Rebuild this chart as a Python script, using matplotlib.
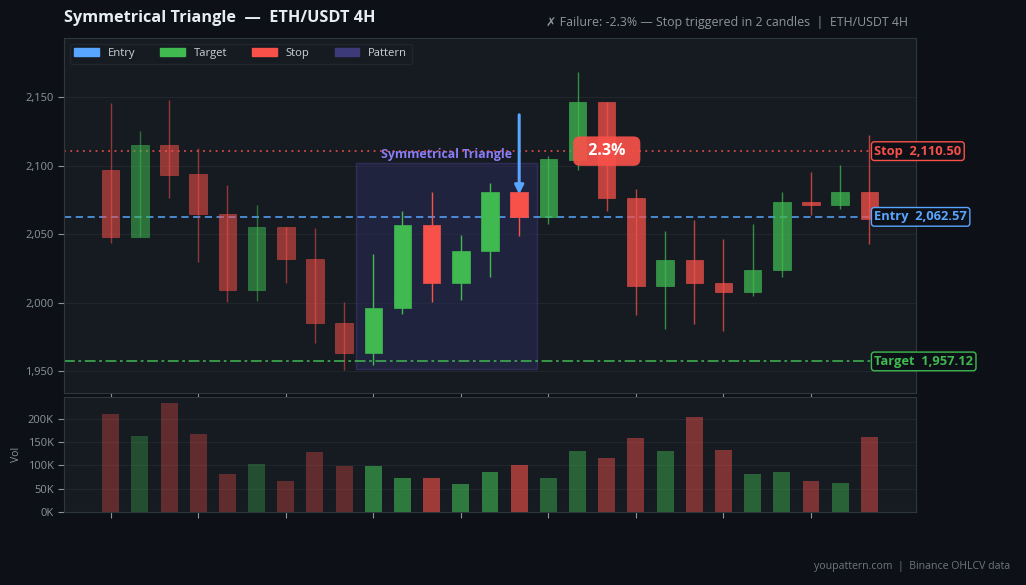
import matplotlib
matplotlib.use("Agg")
import matplotlib.pyplot as plt
from matplotlib.patches import Rectangle, Patch
from matplotlib.ticker import FuncFormatter, MultipleLocator

plt.rcParams['font.family'] = ['Open Sans', 'DejaVu Sans']

# OHLCV (4H candles)
opens = [2097, 2048, 2115, 2094, 2065, 2009, 2055, 2032, 1985.5, 1963.5, 1996, 2056.5, 2014, 2037.5,
         2081, 2062.5, 2104, 2146, 2076.5, 2012, 2031, 2014.5, 2007.5, 2023.5, 2073.5, 2071, 2081]
highs = [2145.5, 2125.5, 2148, 2113, 2085.5, 2071, 2055.5, 2054.5, 2000.5, 2035.5, 2067, 2080.5, 2049.5, 2087,
         2081, 2107, 2168, 2146, 2083, 2052.5, 2060.5, 2046.5, 2057, 2080.5, 2095, 2100.5, 2122.5]
lows = [2043.5, 2048, 2076, 2030, 2000.5, 2001.5, 2014.5, 1970.5, 1951, 1954.5, 1992, 2000.5, 2002, 2018.5,
        2048.5, 2057, 2096.5, 2066.5, 1991, 1980.5, 1984.5, 1979, 2005, 2019, 2064, 2068.5, 2043]
closes = [2048, 2115, 2093, 2065, 2009, 2055, 2032, 1985.5, 1963.5, 1996, 2056.5, 2014, 2038, 2081,
          2062.57, 2104.5, 2146, 2076, 2012, 2031, 2014, 2007.5, 2024, 2073.5, 2071, 2081, 2061]
volumes = [211, 164, 235, 168, 82, 102, 67, 128, 98, 98, 72, 72, 59, 85,
           100, 72, 130, 115, 158, 130, 203, 134, 82, 85, 67, 63, 160]  # thousands

entry = 2062.57
stop = 2110.50
target = 1957.12
pattern_start, pattern_end = 9, 14
pattern_low, pattern_high = 1951.7, 2101.5
pattern_name = "Symmetrical Triangle"
move_pct = "2.3%"

BG = "#0d1117"
PANEL = "#161b22"
GRID = "#21262d"
SPINE = "#30363d"
TXT = "#8b949e"
RED = "#f85149"
GREEN = "#3fb950"
BLUE = "#58a6ff"
PURPLE = "#8b7cf6"

fig = plt.figure(figsize=(10.26, 5.85), dpi=100, facecolor=BG)
ax = fig.add_axes([0.0624, 0.328, 0.8304, 0.607], facecolor=PANEL)
axv = fig.add_axes([0.0624, 0.125, 0.8304, 0.1965], facecolor=PANEL, sharex=ax)

n = len(opens)
for i in range(n):
    up = closes[i] >= opens[i]
    col = GREEN if up else RED
    if pattern_start <= i <= pattern_end:
        a, va = 1.0, 0.6
    elif i < pattern_start:
        a, va = 0.55, 0.33
    else:
        a, va = 0.75, 0.45
    ax.vlines(i, lows[i], highs[i], color=col, alpha=a, lw=1, zorder=3)
    lo, hi = min(opens[i], closes[i]), max(opens[i], closes[i])
    ax.add_patch(Rectangle((i - 0.3, lo), 0.6, max(hi - lo, 0.8), facecolor=col,
                           edgecolor=col, alpha=a, lw=0.5, zorder=4))
    axv.bar(i, volumes[i] * 1000, width=0.58, color=col, alpha=va, zorder=3)

# pattern zone
ax.add_patch(Rectangle((pattern_start - 0.6, pattern_low), pattern_end - pattern_start + 1.2,
                       pattern_high - pattern_low, facecolor="#2a2a55", alpha=0.55,
                       edgecolor="#3d3a7a", lw=1, zorder=2))
ax.text((pattern_start + pattern_end) / 2, pattern_high + 2, pattern_name, color=PURPLE,
        fontsize=8.9, fontweight="bold", ha="center", va="bottom", zorder=6)

# levels
ax.axhline(stop, color=RED, lw=1.3, ls=(0, (1, 2.5)), alpha=0.85, zorder=2)
ax.axhline(entry, color=BLUE, lw=1.3, ls=(0, (4, 2.5)), alpha=0.85, zorder=2)
ax.axhline(target, color=GREEN, lw=1.3, ls=(0, (6, 2, 1.5, 2)), alpha=0.85, zorder=2)

for lvl, name, col in [(stop, "Stop", RED), (entry, "Entry", BLUE), (target, "Target", GREEN)]:
    ax.text(0.951, lvl, f"{name}  {lvl:,.2f}", transform=ax.get_yaxis_transform(),
            color=col, fontsize=9.3, fontweight="bold", ha="left", va="center", clip_on=False,
            zorder=8, bbox=dict(boxstyle="round,pad=0.22", facecolor=BG, edgecolor=col, lw=1))

# entry arrow
ax.annotate("", xy=(pattern_end, opens[pattern_end] - 4), xytext=(pattern_end, 2139),
            arrowprops=dict(arrowstyle="-|>", color=BLUE, lw=2.2, mutation_scale=13), zorder=7)

# move label
ax.text(17, stop, f"  {move_pct}  ", color="white", fontsize=11.5, fontweight="bold",
        ha="center", va="center", zorder=9,
        bbox=dict(boxstyle="round,pad=0.42", facecolor=RED, edgecolor="none", alpha=0.92))

ax.set_xlim(-1.6, n + 0.6)
ax.set_ylim(1934, 2193)
ax.yaxis.set_major_locator(MultipleLocator(50))
ax.yaxis.set_major_formatter(FuncFormatter(lambda v, p: f"{v:,.0f}"))
ax.set_xticks(range(0, n, 3))
ax.tick_params(axis="x", labelbottom=False)

axv.set_ylim(0, 247000)
axv.yaxis.set_major_locator(MultipleLocator(50000))
axv.yaxis.set_major_formatter(FuncFormatter(lambda v, p: f"{v/1000:.0f}K"))
axv.tick_params(axis="x", labelbottom=False)
axv.set_ylabel("Vol", color=TXT, fontsize=7.5, labelpad=4)

for a in (ax, axv):
    a.grid(axis="y", color=GRID, lw=0.8, zorder=0)
    a.set_axisbelow(True)
    a.tick_params(colors=TXT, labelsize=8, length=4, width=0.8)
    for s in a.spines.values():
        s.set_color(SPINE)
        s.set_linewidth(0.8)

handles = [Patch(color=BLUE, label="Entry"), Patch(color=GREEN, label="Target"),
           Patch(color=RED, label="Stop"), Patch(color="#3d3a7a", label="Pattern")]
leg = ax.legend(handles=handles, loc="upper left", ncol=4, fontsize=8.1, frameon=True,
                facecolor=PANEL, edgecolor=GRID, labelcolor="#c9d1d9", handlelength=2.2,
                handleheight=0.7, columnspacing=2.2, borderaxespad=0.5, borderpad=0.4)
leg.get_frame().set_alpha(1)

fig.text(0.0624, 0.97, f"{pattern_name}  —  ETH/USDT 4H", color="#e6edf3", fontsize=11.7,
         fontweight="bold", ha="left", va="center")
fig.text(0.885, 0.961, "✗ Failure: -2.3% — Stop triggered in 2 candles  |  ETH/USDT 4H",
         color=TXT, fontsize=8.9, ha="right", va="center")
fig.text(0.985, 0.031, "youpattern.com  |  Binance OHLCV data", color="#6e7681",
         fontsize=7.6, ha="right", va="center")

fig.savefig("out.png", dpi=100, facecolor=BG)
